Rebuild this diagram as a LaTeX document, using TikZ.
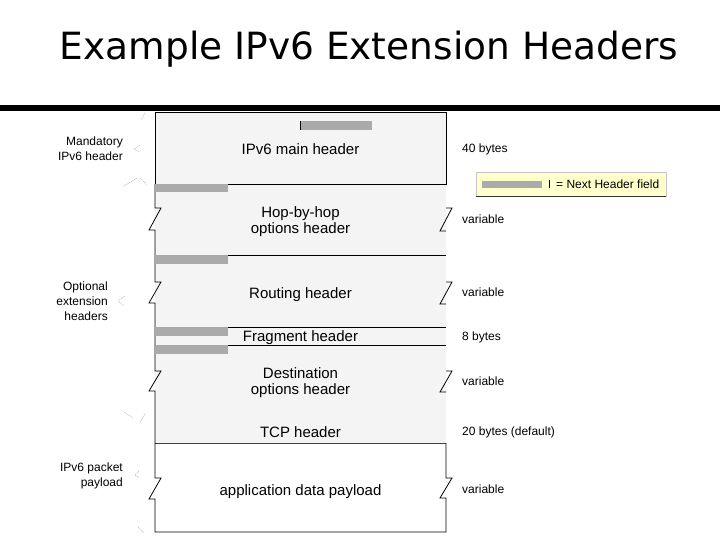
\documentclass[tikz,border=0pt]{standalone}
\usepackage{fontspec}
\setmainfont{Liberation Sans}
\newfontfamily\titlefont{DejaVu Sans}
\definecolor{secfill}{HTML}{F4F4F4}
\definecolor{nhgray}{HTML}{AAAAAA}
\definecolor{legendyellow}{HTML}{FFFFCC}
\begin{document}
\begin{tikzpicture}[x=1pt,y=-1pt,
  hdr/.style={font=\fontsize{15}{17}\selectfont, anchor=base, inner sep=0pt},
  sidelbl/.style={font=\fontsize{12}{14}\selectfont, anchor=base west, inner sep=0pt},
  leftlbl/.style={font=\fontsize{12}{14}\selectfont, anchor=base east, inner sep=0pt},
  nhbar/.style={fill=nhgray, draw=none},
  edge/.style={draw=black, line width=0.8pt},
  bracemark/.style={draw=gray!55, line width=0.5pt, dash pattern=on 1.2pt off 0.8pt}]
\useasboundingbox (0,0) rectangle (720,540);
\fill[white] (0,0) rectangle (720,540);

% title and rule
\node[anchor=base, inner sep=0pt, font=\titlefont\fontsize{37.5}{42}\selectfont] (title) at (369,60) {Example IPv6 Extension Headers};
\fill[black] (0,105) rectangle (720,111);

% section fills
\fill[secfill] (155,184) rectangle (446,443);
\fill[white] (155,443) rectangle (446,532);

% main header box
\draw[edge, fill=secfill] (155,112) rectangle (446,184);

% separators
\draw[edge] (155,255) -- (446,255);
\draw[edge] (155,327) -- (446,327);
\draw[edge] (155,345) -- (446,345);
\draw[draw=black!75, line width=0.8pt] (155,443) -- (446,443);

% left edge of extension headers with breaks
\draw[edge] (155,184) -- (155,208) -- (161,208) -- (149,230) -- (155,230)
  -- (155,282) -- (161,282) -- (149,303) -- (155,303)
  -- (155,371) -- (161,371) -- (149,391) -- (155,391) -- (155,443);
% right breaks
\draw[edge] (446,208) -- (452,208) -- (440,231) -- (446,231);
\draw[edge] (446,282) -- (452,282) -- (440,304) -- (446,304);
\draw[edge] (446,371) -- (452,371) -- (440,392) -- (446,392);

% payload box
\draw[edge] (155,443) -- (155,478) -- (161,478) -- (149,499) -- (155,499)
  -- (155,532) -- (446,532) -- (446,498) -- (440,498) -- (452,478)
  -- (446,478) -- (446,443);

% next header bars
\fill[nhbar] (300,121) rectangle (372,130);
\draw[black, line width=1.2pt] (300.6,121) -- (300.6,130);
\fill[nhbar] (155.4,184.4) rectangle (228,192);
\fill[nhbar] (155.4,255.4) rectangle (228,264);
\fill[nhbar] (155.4,327.4) rectangle (228,336);
\fill[nhbar] (155.4,345.4) rectangle (228,354);

% header labels
\node[hdr] (main) at (300.5,154.5) {IPv6 main header};
\node[hdr] (hop1) at (300.5,218) {Hop-by-hop};
\node[hdr] (hop2) at (300.5,233.5) {options header};
\node[hdr] (rout) at (300.5,298) {Routing header};
\node[hdr] (frag) at (300.5,341) {Fragment header};
\node[hdr] (dest1) at (300.5,378.5) {Destination};
\node[hdr] (dest2) at (300.5,394.5) {options header};
\node[hdr] (tcp) at (300.5,437.5) {TCP header};
\node[hdr] (app) at (300.5,495) {application data payload};

% size labels
\node[sidelbl] (s1) at (462,152.5) {40 bytes};
\node[sidelbl] (s2) at (462,224) {variable};
\node[sidelbl] (s3) at (462,296.5) {variable};
\node[sidelbl] (s4) at (462,340) {8 bytes};
\node[sidelbl] (s5) at (462,385.5) {variable};
\node[sidelbl] (s6) at (462,435.5) {20 bytes (default)};
\node[sidelbl] (s7) at (462,493.5) {variable};

% left labels
\node[leftlbl] (m1) at (123,145.5) {Mandatory};
\node[leftlbl] (m2) at (123,160.5) {IPv6 header};
\node[leftlbl] (o1) at (108,290.5) {Optional};
\node[leftlbl] (o2) at (108,305.5) {extension};
\node[leftlbl] (o3) at (108,320.5) {headers};
\node[leftlbl] (p1) at (123,471.5) {IPv6 packet};
\node[leftlbl] (p2) at (123,486.5) {payload};

% faint brace marks
\draw[bracemark] (145,113) -- (141,120);
\draw[bracemark] (140,145) -- (134,149) -- (140,152);
\draw[bracemark] (124,186) -- (137,178);
\draw[bracemark] (140,178) -- (147,185);
\draw[bracemark] (125,296) -- (118,301) -- (124,306);
\draw[bracemark] (124,412) -- (133,418);
\draw[bracemark] (145,414) -- (140,422);
\draw[bracemark] (139,471) -- (135,475) -- (139,478);
\draw[bracemark] (138,527) -- (144,533);

% legend
\draw[draw=gray!45, fill=legendyellow, line width=0.6pt] (476,172) rectangle (666,196);
\draw[black!80, line width=0.8pt] (476,196) -- (666,196);
\fill[nhbar] (482,181) rectangle (542,188);
\draw[black, line width=1pt] (549,180.5) -- (549,188.5);
\node[sidelbl] (leg) at (556,188.5) {= Next Header field};
\end{tikzpicture}
\end{document}
